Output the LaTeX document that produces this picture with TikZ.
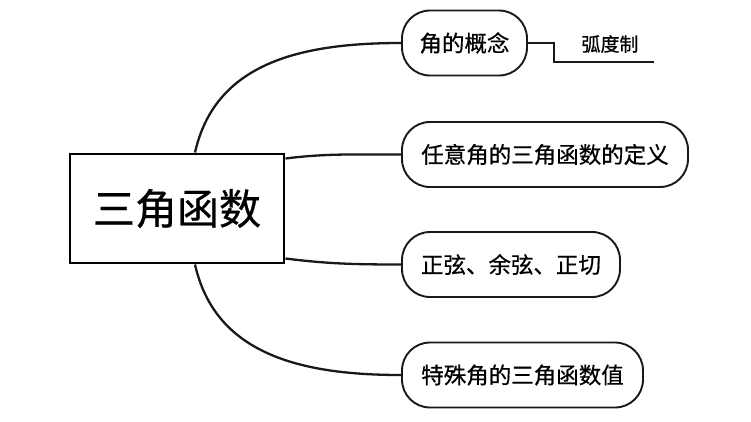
\documentclass[tikz,border=0pt]{standalone}
\usepackage{fontspec}
\newfontfamily\cjk[FakeBold=0.6]{Noto Sans CJK SC}
\usetikzlibrary{calc}
\begin{document}
\begin{tikzpicture}[x=1pt,y=-1pt,
  pill/.style={draw=black!90, line width=1.9pt, rounded corners=28pt, minimum height=65pt, inner sep=0pt, font=\cjk\fontsize{22.5}{24}\selectfont, fill=white},
  topic/.style={draw=black, line width=2.9pt, minimum width=214pt, minimum height=109pt, inner sep=0pt, font=\cjk\fontsize{42}{46}\selectfont},
  conn/.style={line width=2.3pt, black!90},
  leaf/.style={font=\cjk\fontsize{19}{21}\selectfont, inner sep=0pt}]
\useasboundingbox (0,0) rectangle (751,421);
\fill[white] (0,0) rectangle (751,421);

\node[topic] (box) at (177,208.5) {三角函数};

\node[pill, minimum width=125pt] (p1) at (464.5,43) {角的概念};
\node[pill, minimum width=286pt] (p2) at (545,154.5) {任意角的三角函数的定义};
\node[pill, minimum width=218pt] (p3) at (511,264.5) {正弦、余弦、正切};
\node[pill, minimum width=241pt] (p4) at (522.5,375) {特殊角的三角函数值};

\node[leaf] (hu) at (610,44) {弧度制};
\coordinate (hend) at (654,62);

\draw[conn] ([xshift=18pt]box.north) .. controls ($([xshift=18pt]box.north)+(20,-89)$) and ($(p1.west)+(-102,0)$) .. (p1.west);
\draw[conn] ([yshift=50pt]box.east) .. controls ($([yshift=50pt]box.east)+(40,-5)$) and ($(p2.west)+(-50,0)$) .. (p2.west);
\draw[conn] ([yshift=-50pt]box.east) .. controls ($([yshift=-50pt]box.east)+(40,5)$) and ($(p3.west)+(-50,0)$) .. (p3.west);
\draw[conn] ([xshift=18pt]box.south) .. controls ($([xshift=18pt]box.south)+(20,89)$) and ($(p4.west)+(-102,0)$) .. (p4.west);
\draw[conn, line width=1.9pt] (p1.east) -- ++(26,0) |- (hend);
\end{tikzpicture}
\end{document}
